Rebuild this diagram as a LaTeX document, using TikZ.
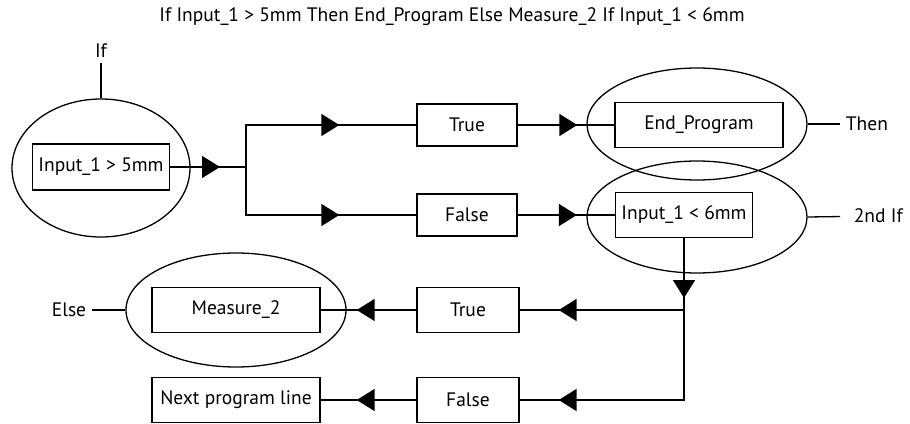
\documentclass[tikz,border=0pt]{standalone}
\usepackage{fontspec}
\setmainfont{PT Sans}
\usetikzlibrary{arrows.meta,shapes.geometric,decorations.markings}
\begin{document}
\begin{tikzpicture}[x=1pt,y=-1pt,line width=1.7pt,
  box/.style={draw,line width=1.4pt,inner sep=0pt,minimum height=45pt,font=\fontsize{19.5}{23}\selectfont},
  oval/.style={draw,ellipse,line width=1.3pt,inner sep=0pt},
  lab/.style={inner sep=5pt,font=\fontsize{19.5}{23}\selectfont},
  tip at/.style={postaction={decorate},decoration={markings,mark=at position #1 with {\arrow{Triangle[length=18pt,width=22pt]}}}}]
\useasboundingbox (0,0) rectangle (910,423);
\node[lab] (title) at (452,17) {If Input\_1 > 5mm Then End\_Program Else Measure\_2 If Input\_1 < 6mm};
\node[oval,minimum width=178pt,minimum height=138pt] (o1) at (101,168) {};
\node[oval,minimum width=220pt,minimum height=112pt] (o2) at (697,124) {};
\node[oval,minimum width=220pt,minimum height=112pt] (o3) at (697,217) {};
\node[oval,minimum width=220pt,minimum height=114pt] (o4) at (236,310) {};
\node[box,minimum width=137pt,minimum height=46pt] (cond1) at (101,167) {Input\_1 > 5mm};
\node[box,minimum width=100pt,minimum height=42pt] (true1) at (467,125) {True};
\node[box,minimum width=100pt,minimum height=42pt] (false1) at (467,215) {False};
\node[box,minimum width=168pt] (endprog) at (699,125) {End\_Program};
\node[box,minimum width=137pt] (cond2) at (684,215) {Input\_1 < 6mm};
\node[box,minimum width=102pt] (true2) at (468,310) {True};
\node[box,minimum width=102pt] (false2) at (468,400) {False};
\node[box,minimum width=168pt] (meas) at (236,310) {Measure\_2};
\node[box,minimum width=168pt] (next) at (236,400) {Next program line};
\coordinate (split) at (246,167);
\coordinate (join) at (cond2.south |- true2.east);
\draw[tip at=-26pt] (cond1.east) -- (split);
\draw[tip at=-77pt] (split) |- (true1.west);
\draw[tip at=-77pt] (split) |- (false1.west);
\draw[tip at=-37pt] (true1.east) -- (endprog.west);
\draw[tip at=-38pt] (false1.east) -- (cond2.west);
\draw[tip at=-12pt] (cond2.south) -- (join);
\draw[tip at=-39pt] (join) -- (true2.east);
\draw[tip at=-39pt] (join) |- (false2.east);
\draw[tip at=-36pt] (true2.west) -- (meas.east);
\draw[tip at=-36pt] (false2.west) -- (next.east);
\node[lab,anchor=south] (iflab) at (101,63) {If};
\node[lab,anchor=west] (thenlab) at (840,124) {Then};
\node[lab,anchor=west] (iflab2) at (848,216) {2nd If};
\node[lab,anchor=east] (elselab) at (92,310) {Else};
\draw[line width=1.3pt] (iflab) -- (o1.north);
\draw[line width=1.3pt] (o2.east) -- (thenlab);
\draw[line width=1.3pt,shorten >=8pt] (o3.east) -- (iflab2);
\draw[line width=1.3pt] (elselab) -- (o4.west);
\end{tikzpicture}
\end{document}
